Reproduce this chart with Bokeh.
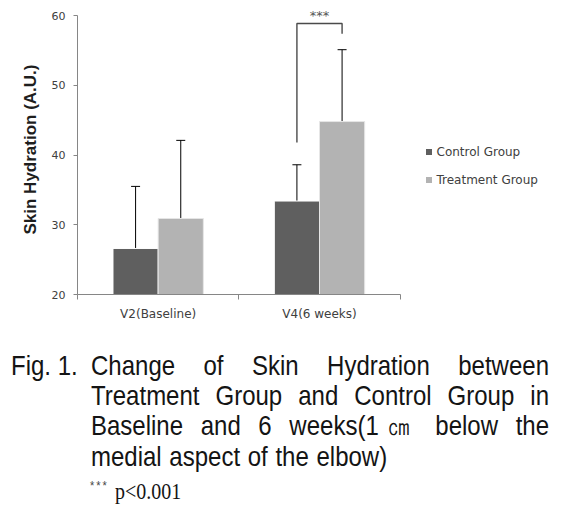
from bokeh.plotting import figure
from bokeh.models import (Range1d, FixedTicker, ColumnDataSource, Whisker, TeeHead,
                          Label, Legend, LegendItem, Div)
from bokeh.layouts import column
from bokeh.embed import file_html
from bokeh.resources import INLINE

# ---------------- data ----------------
categories = ["V2(Baseline)", "V4(6 weeks)"]
groups = ["Control Group", "Treatment Group"]
control_mean = [26.6, 33.4]
control_sd = [8.9, 5.2]
treatment_mean = [30.9, 44.8]
treatment_sd = [11.2, 10.3]
y_ticks = [20, 30, 40, 50, 60]
significance_label = "***"
caption_first = ["Fig. 1.", "Change of Skin Hydration between"]
caption_lines = ["Treatment Group and Control Group in",
                 "Baseline and 6 weeks(1\u339d below the"]
caption_last = "medial aspect of the elbow)"
note_stars = "***"
note_text = "p<0.001"

# ---------------- style ----------------
colors = ["#5f5f5f", "#b3b3b3"]
BAR_W = 0.28
AXIS_COLOR = "#868686"
LABEL_COLOR = "#404040"
HEADROOM = 1.58   # space above the top tick for the significance mark

n = len(categories)
x_ctrl = [i + 0.5 - BAR_W / 2 for i in range(n)]
x_trt = [i + 0.5 + BAR_W / 2 for i in range(n)]
src = ColumnDataSource(dict(
    x_ctrl=x_ctrl, x_trt=x_trt,
    ctrl=control_mean, trt=treatment_mean,
    ctrl_up=[m + s for m, s in zip(control_mean, control_sd)],
    trt_up=[m + s for m, s in zip(treatment_mean, treatment_sd)],
))

# frame spans the axes plus the legend area to the right; axes are bounded to the data region
p = figure(width=569, height=350, output_backend="svg", toolbar_location=None,
           title=None,
           x_range=Range1d(0, n * 1.5),
           y_range=Range1d(y_ticks[0], y_ticks[-1] + HEADROOM),
           min_border_left=77, min_border_right=8, min_border_top=4,
           min_border_bottom=56)
p.outline_line_color = None
p.xgrid.visible = False
p.ygrid.visible = False

p.vbar(x="x_ctrl", top="ctrl", bottom=y_ticks[0], width=BAR_W, source=src,
       fill_color=colors[0], line_color="white", line_width=1)
p.vbar(x="x_trt", top="trt", bottom=y_ticks[0], width=BAR_W, source=src,
       fill_color=colors[1], line_color="#e6e6e6", line_width=1)

for base, lo, up in [("x_ctrl", "ctrl", "ctrl_up"), ("x_trt", "trt", "trt_up")]:
    p.add_layout(Whisker(source=src, base=base, lower=lo, upper=up,
                         line_color="black", line_width=1,
                         upper_head=TeeHead(size=9, line_color="black", line_width=1),
                         lower_head=None))

# significance bracket on V4
k = 1
p.line(x=[x_ctrl[k], x_ctrl[k], x_trt[k], x_trt[k]],
       y=[41.8, 58.85, 58.85, 57.4], line_color="#4a4a4a", line_width=1.4)
p.add_layout(Label(x=k + 0.5, y=60.0, text=significance_label, text_align="center",
                   text_baseline="alphabetic", text_font="DejaVu Sans",
                   text_font_size="13px", text_color="#555555"))

# legend (square-marker proxies carrying no visible point)
nan = float("nan")
leg_r = [p.scatter(x=[nan], y=[nan], marker="square", size=6, fill_color=c, line_color=None)
         for c in colors]
legend = Legend(items=[LegendItem(label=g, renderers=[r]) for g, r in zip(groups, leg_r)],
                location=(343.5, 107), orientation="vertical",
                glyph_width=15, glyph_height=15, label_height=15, spacing=13,
                label_standoff=1, padding=0, margin=0, border_line_color=None,
                background_fill_alpha=0, label_text_font="DejaVu Sans",
                label_text_font_size="12px", label_text_color=LABEL_COLOR)
p.add_layout(legend)

# axes
xa = p.xaxis[0]
xa.bounds = (0, n)
xa.ticker = FixedTicker(ticks=[i + 0.5 for i in range(n)], minor_ticks=list(range(n + 1)))
xa.major_label_overrides = {i + 0.5: c for i, c in enumerate(categories)}
xa.major_tick_out = 0
xa.major_tick_in = 0
xa.minor_tick_out = 5
xa.minor_tick_in = 0
xa.axis_line_color = AXIS_COLOR
xa.minor_tick_line_color = AXIS_COLOR
xa.major_label_text_font = "DejaVu Sans"
xa.major_label_text_font_size = "12px"
xa.major_label_text_color = LABEL_COLOR
xa.major_label_standoff = 7

ya = p.yaxis[0]
ya.bounds = (y_ticks[0], y_ticks[-1])
ya.ticker = FixedTicker(ticks=y_ticks)
ya.major_tick_out = 4
ya.major_tick_in = 0
ya.minor_tick_line_color = None
ya.axis_line_color = AXIS_COLOR
ya.major_tick_line_color = AXIS_COLOR
ya.major_label_text_font = "DejaVu Sans"
ya.major_label_text_font_size = "11px"
ya.major_label_text_color = LABEL_COLOR
ya.major_label_standoff = 8
ya.axis_label = "Skin Hydration (A.U.)"
ya.axis_label_text_font = "Liberation Sans"
ya.axis_label_text_font_style = "bold"
ya.axis_label_text_font_size = "17px"
ya.axis_label_text_color = "#1e1e1e"
ya.axis_label_standoff = 9

# caption (taller, narrow look of the original font via a vertical stretch)
J = "text-align:justify;text-align-last:justify;"
CM = '<span style="margin:0 -4px 0 -3px;">\u339d</span>'
html = (
    '<div style="font-family:\'Liberation Sans\',Arial,sans-serif;font-size:24px;'
    'line-height:25.9px;color:#141414;width:569px;transform:scaleY(1.17);'
    'transform-origin:0 0;">'
    '<div style="display:flex;">'
    f'<span style="flex:0 0 80px;margin-left:11px;">{caption_first[0]}</span>'
    f'<span style="flex:0 0 458px;{J}">{caption_first[1]}</span></div>'
    + "".join(f'<div style="margin-left:91px;width:458px;{J}">{t.replace(chr(0x339d), CM)}</div>'
              for t in caption_lines)
    + f'<div style="margin-left:91px;word-spacing:1px;">{caption_last}</div>'
    '<div style="margin-left:90px;">'
    f'<span style="display:inline-block;width:25px;font-size:11px;letter-spacing:2px;'
    f'vertical-align:7px;color:#444;">{note_stars}</span>'
    f'<span style="font-family:\'Liberation Serif\',serif;font-size:20px;">'
    f'{note_text.replace("<", "&lt;")}</span>'
    '</div></div>'
)
cap = Div(text=html, width=569, height=166, margin=(0, 0, 0, 0))

layout = column(p, cap, spacing=0)
open("out.html", "w").write(file_html(layout, INLINE))
